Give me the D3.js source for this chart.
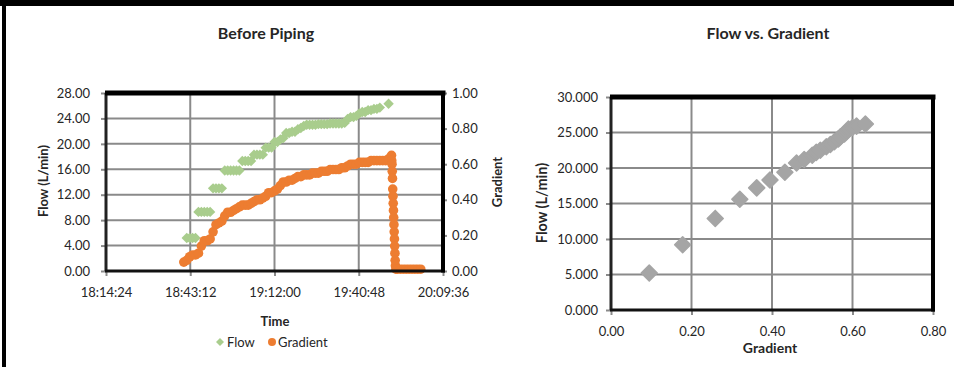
<!DOCTYPE html>
<html><head><meta charset="utf-8">
<script src="https://cdn.jsdelivr.net/npm/d3@7"></script>
<style>
body{margin:0;background:#fff}
svg{display:block}
text{font-family:Lato,"Open Sans",sans-serif;fill:#262626}
</style>
</head><body><svg id="c" width="954" height="367"></svg>
<script>
// ---------- data ----------
const timeTicks = ["18:14:24","18:43:12","19:12:00","19:40:48","20:09:36"];
const flowTicks = [0,4,8,12,16,20,24,28];
const gradTicks = [0,0.2,0.4,0.6,0.8,1.0];

const flowTimes = ["18:42","18:43","18:44","18:45","18:46","18:47","18:48","18:49","18:50","18:51",
 "18:52","18:53","18:54","18:55","18:56","18:57","18:58","18:59","19:00","19:01",
 "19:02","19:03","19:04","19:05","19:06","19:07","19:08","19:09","19:10","19:11",
 "19:12","19:13","19:14","19:15","19:16","19:17","19:18","19:19","19:20","19:21",
 "19:22","19:23","19:24","19:25","19:26","19:27","19:28","19:29","19:30","19:31",
 "19:32","19:33","19:34","19:35","19:36","19:37","19:38","19:39","19:40","19:41",
 "19:42","19:43","19:44","19:45","19:46","19:47","19:48","19:51"];
const flowValues = [5.2,5.2,5.2,5.2,9.3,9.3,9.3,9.3,9.3,13.0,
 13.0,13.0,13.0,15.8,15.8,15.8,15.8,15.8,15.8,17.3,
 17.3,17.3,17.3,18.3,18.3,18.3,18.3,19.4,19.4,19.4,
 20.3,20.3,20.7,20.9,21.7,21.7,21.9,21.9,22.3,22.5,
 22.8,23.0,23.0,23.0,23.0,23.1,23.1,23.1,23.1,23.2,
 23.2,23.2,23.2,23.2,23.3,23.9,24.2,24.2,24.4,24.8,
 25.0,25.0,25.3,25.3,25.5,25.5,25.7,26.3];

const gradTimes = ["18:41","18:42","18:43","18:44","18:45","18:46","18:47","18:48","18:49","18:50",
 "18:51","18:52","18:53","18:54","18:55","18:56","18:57","18:58","18:59","19:00",
 "19:01","19:02","19:03","19:04","19:05","19:06","19:07","19:08","19:09","19:10",
 "19:11","19:12","19:13","19:14","19:15","19:16","19:17","19:18","19:19","19:20",
 "19:21","19:22","19:23","19:24","19:25","19:26","19:27","19:28","19:29","19:30",
 "19:31","19:32","19:33","19:34","19:35","19:36","19:37","19:38","19:39","19:40",
 "19:41","19:42","19:43","19:44","19:45","19:46","19:47","19:48","19:49","19:50",
 "19:51","19:52",
 "19:52:05","19:52:10","19:52:15","19:52:20","19:52:25","19:52:30","19:52:35","19:52:40",
 "19:52:45","19:52:50","19:52:55","19:53:00","19:53:05","19:53:10","19:53:15","19:53:20",
 "19:53:30","19:54","19:55","19:56","19:57","19:58","19:59","20:00","20:01","20:02"];
const gradValues = [0.05,0.06,0.08,0.09,0.09,0.10,0.14,0.17,0.17,0.18,
 0.22,0.26,0.27,0.28,0.31,0.33,0.33,0.34,0.35,0.36,
 0.37,0.37,0.37,0.38,0.39,0.40,0.40,0.41,0.42,0.44,
 0.44,0.45,0.46,0.48,0.50,0.50,0.51,0.51,0.52,0.53,
 0.53,0.54,0.54,0.54,0.55,0.55,0.55,0.56,0.56,0.56,
 0.57,0.57,0.57,0.57,0.58,0.58,0.59,0.60,0.60,0.60,
 0.61,0.61,0.61,0.61,0.62,0.62,0.62,0.62,0.62,0.62,
 0.63,0.65,
 0.62,0.60,0.56,0.52,0.46,0.42,0.38,0.34,
 0.30,0.26,0.22,0.18,0.14,0.10,0.06,0.03,
 0.01,0.01,0.01,0.01,0.01,0.01,0.01,0.01,0.01,0.01];

const scatterGradient = [0.095,0.178,0.259,0.32,0.362,0.395,0.432,0.461,0.48,0.50,0.51,0.52,
 0.535,0.545,0.555,0.565,0.57,0.58,0.585,0.59,0.60,0.61,0.632];
const scatterFlow = [5.2,9.2,12.9,15.6,17.2,18.3,19.4,20.7,21.2,21.8,22.2,22.5,
 23.0,23.3,23.7,24.1,24.4,24.8,25.1,25.5,25.7,25.9,26.2];
const scatterXTicks = [0,0.2,0.4,0.6,0.8];
const scatterYTicks = [0,5,10,15,20,25,30];

// ---------- helpers ----------
const tsec = s => { const p = s.split(":").map(Number); return p[0]*3600 + p[1]*60 + (p[2]||0); };
const svg = d3.select("#c");
const GRID = "#8a8a8a";
const green = "#a9cd8d", orange = "#ed7d31", grey = "#a5a5a5";
const diamond = r => `M0,${-r}L${r},0L0,${r}L${-r},0Z`;

// outer frame
svg.append("rect").attr("x",0).attr("y",0).attr("width",954).attr("height",6).attr("fill","#000");
svg.append("rect").attr("x",2).attr("y",0).attr("width",4).attr("height",367).attr("fill","#000");

function frame(g, x0, x1, y0, y1){
  g.append("line").attr("x1",x0).attr("x2",x0).attr("y1",y0).attr("y2",y1).attr("stroke","#222").attr("stroke-width",3);
  g.append("line").attr("x1",x0-1).attr("x2",x1+2).attr("y1",y1).attr("y2",y1).attr("stroke","#111").attr("stroke-width",3);
  g.append("line").attr("x1",x0-1).attr("x2",x1+2.5).attr("y1",y0).attr("y2",y0).attr("stroke","#000").attr("stroke-width",5);
  g.append("line").attr("x1",x1).attr("x2",x1).attr("y1",y0).attr("y2",y1+1.5).attr("stroke","#000").attr("stroke-width",4);
}

// ---------- left chart ----------
{
  const L = {x0:106, x1:443, y0:93, y1:271};
  const x = d3.scaleLinear().domain([tsec(timeTicks[0]), tsec(timeTicks[timeTicks.length-1])]).range([L.x0, L.x1]);
  const yF = d3.scaleLinear().domain([0,28]).range([L.y1, L.y0]);
  const yG = d3.scaleLinear().domain([0,1]).range([L.y1, L.y0]);
  const g = svg.append("g");

  // grid
  g.selectAll(".hg").data(flowTicks).join("line")
    .attr("x1",L.x0).attr("x2",L.x1).attr("y1",d=>yF(d)).attr("y2",d=>yF(d))
    .attr("stroke",GRID).attr("stroke-width",2);
  g.selectAll(".vg").data(timeTicks).join("line")
    .attr("x1",d=>x(tsec(d))).attr("x2",d=>x(tsec(d))).attr("y1",L.y0).attr("y2",L.y1)
    .attr("stroke",GRID).attr("stroke-width",2);

  // axes
  const ax = g.append("g").attr("transform",`translate(0,${L.y1})`)
    .call(d3.axisBottom(x).tickValues(timeTicks.map(tsec)).tickFormat((d,i)=>timeTicks[i]).tickSize(5).tickPadding(12));
  const ay = g.append("g").attr("transform",`translate(${L.x0},0)`)
    .call(d3.axisLeft(yF).tickValues(flowTicks).tickFormat(d3.format(".2f")).tickSize(5).tickPadding(11));
  const ay2 = g.append("g").attr("transform",`translate(${L.x1},0)`)
    .call(d3.axisRight(yG).tickValues(gradTicks).tickFormat(d3.format(".2f")).tickSize(4).tickPadding(5));
  [ax,ay,ay2].forEach(a=>{
    a.select(".domain").remove();
    a.selectAll(".tick line").attr("stroke",GRID).attr("stroke-width",2);
    a.selectAll("text").attr("font-size",13).attr("fill","#262626").attr("font-family","Lato");
  });

  // series
  g.selectAll(".fp").data(flowTimes).join("path")
    .attr("d",diamond(5.2)).attr("fill",green)
    .attr("transform",(d,i)=>`translate(${x(tsec(d))},${yF(flowValues[i])})`);
  g.selectAll(".gp").data(gradTimes).join("circle")
    .attr("cx",d=>x(tsec(d))).attr("cy",(d,i)=>yG(gradValues[i])).attr("r",4.8).attr("fill",orange);

  frame(g, L.x0, L.x1, L.y0, L.y1);

  // titles
  g.append("text").attr("x",266).attr("y",39).attr("text-anchor","middle").attr("font-size",16).attr("font-weight","bold").text("Before Piping");
  g.append("text").attr("transform","translate(48,181) rotate(-90)").attr("text-anchor","middle").attr("font-size",13).attr("font-weight","bold").text("Flow (L/min)");
  g.append("text").attr("transform","translate(502,182) rotate(-90)").attr("text-anchor","middle").attr("font-size",13).attr("font-weight","bold").text("Gradient");
  g.append("text").attr("x",275).attr("y",326).attr("text-anchor","middle").attr("font-size",13).attr("font-weight","bold").text("Time");

  // legend
  const lg = g.append("g");
  lg.append("path").attr("d",diamond(4)).attr("fill",green).attr("transform","translate(220,342)");
  lg.append("text").attr("x",227).attr("y",346.5).attr("font-size",13).text("Flow");
  lg.append("circle").attr("cx",272).attr("cy",342).attr("r",4).attr("fill",orange);
  lg.append("text").attr("x",278).attr("y",346.5).attr("font-size",13).text("Gradient");
}

// ---------- right chart ----------
{
  const R = {x0:611, x1:933, y0:97, y1:310};
  const x = d3.scaleLinear().domain([0,0.8]).range([R.x0, R.x1]);
  const y = d3.scaleLinear().domain([0,30]).range([R.y1, R.y0]);
  const g = svg.append("g");

  g.selectAll(".hg").data(scatterYTicks).join("line")
    .attr("x1",R.x0).attr("x2",R.x1).attr("y1",d=>y(d)).attr("y2",d=>y(d))
    .attr("stroke",GRID).attr("stroke-width",2);
  g.selectAll(".vg").data(scatterXTicks).join("line")
    .attr("x1",d=>x(d)).attr("x2",d=>x(d)).attr("y1",R.y0).attr("y2",R.y1)
    .attr("stroke",GRID).attr("stroke-width",2);

  const ax = g.append("g").attr("transform",`translate(0,${R.y1})`)
    .call(d3.axisBottom(x).tickValues(scatterXTicks).tickFormat(d3.format(".2f")).tickSize(5).tickPadding(12));
  const ay = g.append("g").attr("transform",`translate(${R.x0},0)`)
    .call(d3.axisLeft(y).tickValues(scatterYTicks).tickFormat(d3.format(".3f")).tickSize(5).tickPadding(8));
  [ax,ay].forEach(a=>{
    a.select(".domain").remove();
    a.selectAll(".tick line").attr("stroke",GRID).attr("stroke-width",2);
    a.selectAll("text").attr("font-size",13).attr("fill","#262626").attr("font-family","Lato");
  });

  g.selectAll(".sp").data(scatterGradient).join("path")
    .attr("d",diamond(8)).attr("fill",grey)
    .attr("stroke",grey).attr("stroke-width",1.5).attr("stroke-linejoin","round")
    .attr("transform",(d,i)=>`translate(${x(d)},${y(scatterFlow[i])})`);

  frame(g, R.x0, R.x1, R.y0, R.y1);

  g.append("text").attr("x",768).attr("y",39).attr("text-anchor","middle").attr("font-size",16).attr("font-weight","bold").text("Flow  vs. Gradient");
  g.append("text").attr("transform","translate(547,203) rotate(-90)").attr("text-anchor","middle").attr("font-size",14.5).attr("font-weight","bold").text("Flow (L/min)");
  g.append("text").attr("x",770).attr("y",353).attr("text-anchor","middle").attr("font-size",14).attr("font-weight","bold").text("Gradient");
}
</script>
</body></html>
